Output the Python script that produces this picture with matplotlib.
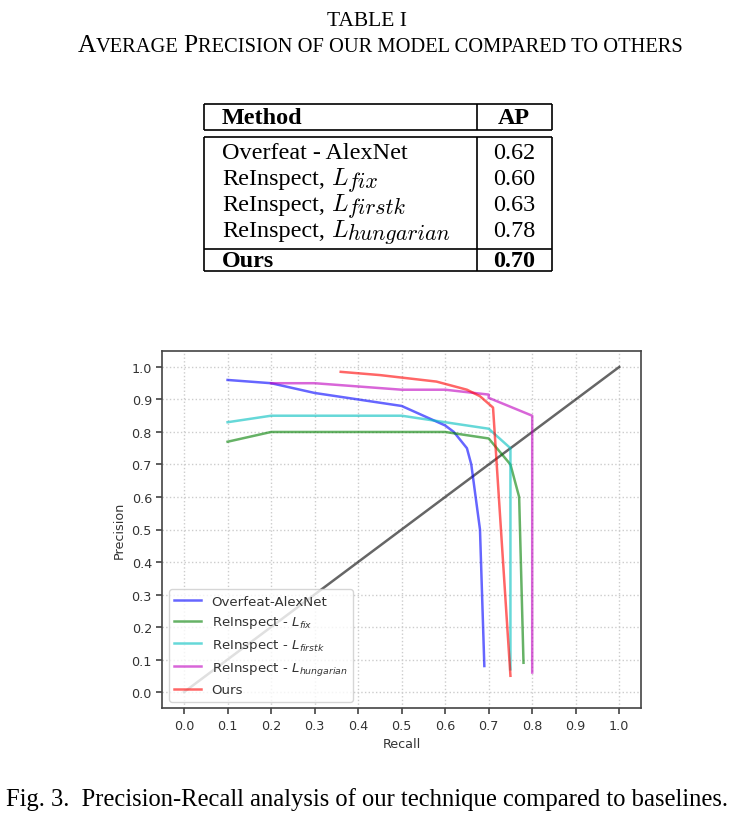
import os
import matplotlib
matplotlib.use("Agg")
import matplotlib.pyplot as plt
from matplotlib.font_manager import FontProperties
from matplotlib.offsetbox import TextArea, HPacker, DrawingArea, AnnotationBbox

# ---------------- data ----------------
table_method_names = ["Overfeat - AlexNet", "ReInspect,", "ReInspect,", "ReInspect,", "Ours"]
table_method_subs = [None, "fix", "firstk", "hungarian", None]
table_ap = ["0.62", "0.60", "0.63", "0.78", "0.70"]

recall_overfeat = [0.10, 0.20, 0.30, 0.50, 0.60, 0.62, 0.65, 0.66, 0.68, 0.69]
prec_overfeat = [0.96, 0.95, 0.92, 0.88, 0.82, 0.80, 0.75, 0.70, 0.50, 0.08]

recall_fix = [0.10, 0.20, 0.60, 0.70, 0.75, 0.77, 0.78]
prec_fix = [0.77, 0.80, 0.80, 0.78, 0.70, 0.60, 0.09]

recall_firstk = [0.10, 0.20, 0.50, 0.60, 0.70, 0.75, 0.75]
prec_firstk = [0.83, 0.85, 0.85, 0.83, 0.81, 0.75, 0.07]

recall_hung = [0.20, 0.30, 0.50, 0.60, 0.70, 0.70, 0.80, 0.80]
prec_hung = [0.95, 0.95, 0.93, 0.93, 0.915, 0.905, 0.85, 0.06]

recall_ours = [0.36, 0.45, 0.58, 0.65, 0.68, 0.71, 0.75]
prec_ours = [0.985, 0.975, 0.955, 0.93, 0.91, 0.875, 0.05]

diag = [0.0, 1.0]

series_labels = ["Overfeat-AlexNet", r"ReInspect - $L_{fix}$", r"ReInspect - $L_{firstk}$",
                 r"ReInspect - $L_{hungarian}$", "Ours"]
ticks = [i / 10 for i in range(11)]

# ---------------- figure ----------------
W, H = 734, 829
fig = plt.figure(figsize=(W / 100, H / 100), dpi=100)
fig.patch.set_facecolor("white")
renderer = fig.canvas.get_renderer()

SERIF = "Liberation Serif"
CMMI = os.path.join(matplotlib.get_data_path(), "fonts", "ttf", "cmmi10.ttf")

# overlay axes in pixel coordinates for the table / captions
ov = fig.add_axes([0, 0, 1, 1])
ov.set_xlim(0, W)
ov.set_ylim(H, 0)
ov.axis("off")

ov.text(367, 26, "TABLE I", family=SERIF, fontsize=15.5, ha="center", va="baseline")

big, small = 18.3, 14.8
def ta(s, fs):
    return TextArea(s, textprops=dict(family=SERIF, fontsize=fs, color="black"))
parts = [ta("A", big), ta("VERAGE", small), DrawingArea(3.6, 0), ta("P", big),
         ta("RECISION OF OUR MODEL COMPARED TO OTHERS", small)]
pack = HPacker(children=parts, align="baseline", pad=0, sep=0)
ab = AnnotationBbox(pack, (380, 46), xycoords="data", box_alignment=(0.5, 0.5),
                    frameon=False, pad=0)
ov.add_artist(ab)

# table geometry
xl, xr, xd = 203.5, 551.5, 476.5
lw = 1.2
def hline(y, x0=xl, x1=xr):
    ov.plot([x0, x1], [y, y], color="black", lw=lw, solid_capstyle="butt")
def vline(x, y0, y1):
    ov.plot([x, x], [y0, y1], color="black", lw=lw, solid_capstyle="butt")

hline(105); hline(130.5)
vline(xl, 105, 130.5); vline(xr, 105, 130.5); vline(xd, 105, 130.5)
hline(137.5); hline(249.5); hline(271.5)
vline(xl, 137.5, 271.5); vline(xr, 137.5, 271.5); vline(xd, 137.5, 271.5)

tfs = 17.4
fp_L = FontProperties(fname=CMMI, size=tfs)
fp_sub = FontProperties(fname=CMMI, size=15.8)
ov.text(222, 124, "Method", family=SERIF, fontsize=tfs, fontweight="bold", va="baseline")
ov.text(514, 124, "AP", family=SERIF, fontsize=tfs, fontweight="bold", va="baseline", ha="center")
row_base = [158.5, 184.8, 210.8, 236.8, 267]
for i, (m, sub, a) in enumerate(zip(table_method_names, table_method_subs, table_ap)):
    bold = (i == len(table_method_names) - 1)
    weight = "bold" if bold else "normal"
    t = ov.text(222, row_base[i], m, family=SERIF, fontsize=tfs, va="baseline", fontweight=weight)
    if sub is not None:
        bb = t.get_window_extent(renderer)
        tl = ov.text(bb.x1 + 6.5, row_base[i], "L", fontproperties=fp_L, va="baseline")
        bl = tl.get_window_extent(renderer)
        ov.text(bl.x1 + 0.5, row_base[i] + 3.5, sub, fontproperties=fp_sub, va="baseline")
    ov.text(514, row_base[i], a, family=SERIF, fontsize=tfs, va="baseline", ha="center",
            fontweight=weight)

ov.text(367, 806, "Fig. 3.  Precision-Recall analysis of our technique compared to baselines.",
        family=SERIF, fontsize=17.7, ha="center", va="baseline")

# ---------------- chart ----------------
ax = fig.add_axes([162.3 / W, 1 - 709.3 / H, (641 - 162.3) / W, (709.3 - 351.7) / H])
ax.plot(diag, diag, color="k", alpha=0.6, lw=1.8)
ax.plot(recall_overfeat, prec_overfeat, color="b", alpha=0.6, lw=1.8, label=series_labels[0])
ax.plot(recall_fix, prec_fix, color="g", alpha=0.6, lw=1.8, label=series_labels[1])
ax.plot(recall_firstk, prec_firstk, color="c", alpha=0.6, lw=1.8, label=series_labels[2])
ax.plot(recall_hung, prec_hung, color="m", alpha=0.6, lw=1.8, label=series_labels[3])
ax.plot(recall_ours, prec_ours, color="r", alpha=0.6, lw=1.8, label=series_labels[4])

ax.set_xlim(-0.05, 1.05)
ax.set_ylim(-0.05, 1.05)
ax.set_xticks(ticks)
ax.set_yticks(ticks)
ax.set_xticklabels([f"{t:.1f}" for t in ticks])
ax.set_yticklabels([f"{t:.1f}" for t in ticks])
ax.tick_params(labelsize=9.2, colors="#333333", length=4, width=1.1)
ax.grid(True, linestyle=":", color="#cccccc", lw=1.0)
for sp in ax.spines.values():
    sp.set_color("#444444")
    sp.set_linewidth(1.2)
ax.set_xlabel("Recall", fontsize=9.2, color="#333333")
ax.set_ylabel("Precision", fontsize=9.2, color="#333333")
leg = ax.legend(loc="lower left", fontsize=9.6, handlelength=2.0, labelspacing=0.5)
for t in leg.get_texts():
    t.set_color("#333333")

fig.savefig("out.png", dpi=100)
